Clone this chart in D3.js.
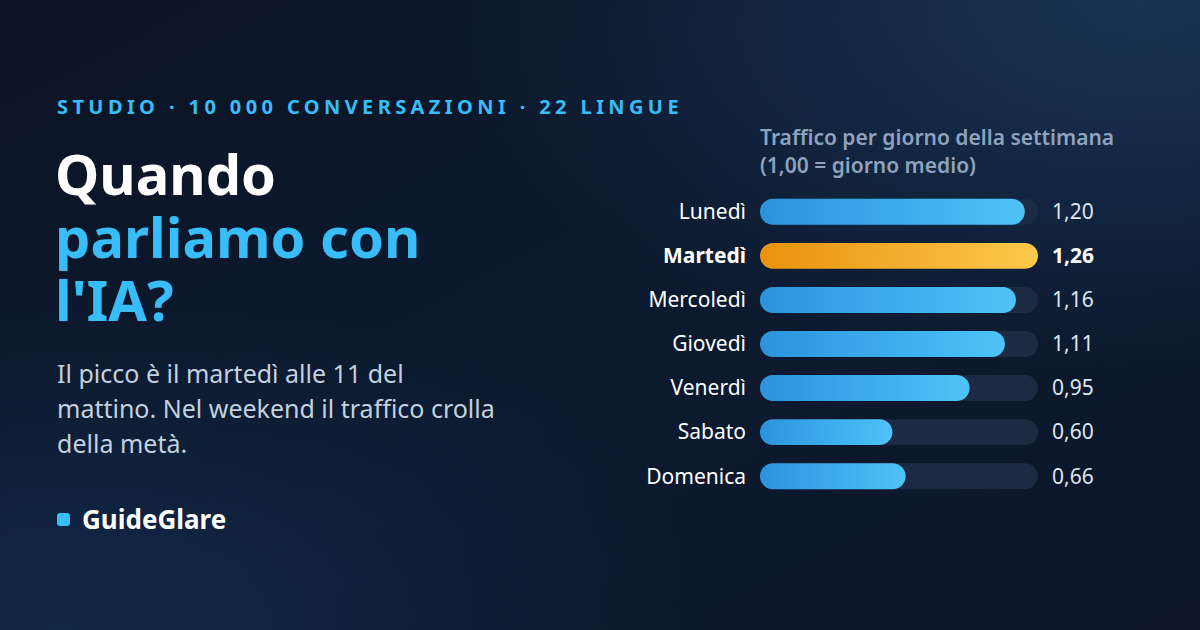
<!DOCTYPE html>
<html lang="it">
  <head>
    <meta charset="utf-8">
    <title>giorni_traffico</title>
    <script src="https://d3js.org/d3.v7.min.js"></script>
    <style>
      body {margin:0; background:#0c1628; overflow:hidden;}
      svg {display:block; font-family:"Noto Sans", "Open Sans", sans-serif;}
    </style>
  </head>
  <body>
    <script>
      // dati
      const days = ['Lunedì', 'Martedì', 'Mercoledì', 'Giovedì', 'Venerdì', 'Sabato', 'Domenica'];
      const traffic = [1.20, 1.26, 1.16, 1.11, 0.95, 0.60, 0.66];
      const valueLabels = ['1,20', '1,26', '1,16', '1,11', '0,95', '0,60', '0,66'];
      const peakDay = 'Martedì';

      const kicker = 'STUDIO · 10 000 CONVERSAZIONI · 22 LINGUE';
      const titleLines = ['Quando', 'parliamo con', "l'IA?"];
      const subtitleLines = ['Il picco è il martedì alle 11 del', 'mattino. Nel weekend il traffico crolla', 'della metà.'];
      const chartTitle = ['Traffico per giorno della settimana', '(1,00 = giorno medio)'];
      const brand = 'GuideGlare';

      const width = 1200;
      const height = 630;

      const svg = d3.select('body').append('svg')
        .attr('width', width).attr('height', height);

      const defs = svg.append('defs');

      // sfondo
      const bg = defs.append('linearGradient').attr('id', 'bg')
        .attr('x1', 0).attr('y1', 0).attr('x2', 1).attr('y2', 1);
      bg.append('stop').attr('offset', '0%').attr('stop-color', '#0b1424');
      bg.append('stop').attr('offset', '55%').attr('stop-color', '#0c1a30');
      bg.append('stop').attr('offset', '100%').attr('stop-color', '#0b1526');

      const glowTR = defs.append('radialGradient').attr('id', 'glowTR')
        .attr('cx', '95%').attr('cy', '0%').attr('r', '60%');
      glowTR.append('stop').attr('offset', '0%').attr('stop-color', '#1a3558').attr('stop-opacity', 0.9);
      glowTR.append('stop').attr('offset', '100%').attr('stop-color', '#1a3558').attr('stop-opacity', 0);

      const glowBL = defs.append('radialGradient').attr('id', 'glowBL')
        .attr('cx', '5%').attr('cy', '100%').attr('r', '55%');
      glowBL.append('stop').attr('offset', '0%').attr('stop-color', '#13294a').attr('stop-opacity', 0.9);
      glowBL.append('stop').attr('offset', '100%').attr('stop-color', '#13294a').attr('stop-opacity', 0);

      svg.append('rect').attr('width', width).attr('height', height).attr('fill', 'url(#bg)');
      svg.append('rect').attr('width', width).attr('height', height).attr('fill', 'url(#glowTR)');
      svg.append('rect').attr('width', width).attr('height', height).attr('fill', 'url(#glowBL)');

      const blue = defs.append('linearGradient').attr('id', 'barBlue');
      blue.append('stop').attr('offset', '0%').attr('stop-color', '#2a93df');
      blue.append('stop').attr('offset', '100%').attr('stop-color', '#4fc3f7');

      const orange = defs.append('linearGradient').attr('id', 'barOrange');
      orange.append('stop').attr('offset', '0%').attr('stop-color', '#e8920e');
      orange.append('stop').attr('offset', '100%').attr('stop-color', '#fdc94c');

      // testo a sinistra
      svg.append('text')
        .attr('x', 57).attr('y', 114)
        .attr('fill', '#38bdf8')
        .style('font-size', '20px').style('font-weight', 700).style('letter-spacing', '4.4px')
        .text(kicker);

      svg.append('g').selectAll('text').data(titleLines).join('text')
        .attr('x', 55)
        .attr('y', (d, i) => 195 + i * 63)
        .attr('fill', (d, i) => i === 0 ? '#ffffff' : '#38bdf8')
        .style('font-size', '56px').style('font-weight', 700)
        .text(d => d);

      svg.append('g').selectAll('text').data(subtitleLines).join('text')
        .attr('x', 57)
        .attr('y', (d, i) => 383 + i * 35)
        .attr('fill', '#c3d0df')
        .style('font-size', '25px')
        .text(d => d);

      svg.append('rect')
        .attr('x', 57).attr('y', 513).attr('width', 13).attr('height', 13).attr('rx', 3)
        .attr('fill', '#38bdf8');
      svg.append('text')
        .attr('x', 82).attr('y', 529)
        .attr('fill', '#ffffff')
        .style('font-size', '26px').style('font-weight', 700)
        .text(brand);

      // grafico a barre
      const x = d3.scaleLinear()
        .domain([0, d3.max(traffic)])
        .range([760, 1038]);

      const y = d3.scaleBand()
        .domain(days)
        .range([190, 498])
        .paddingInner(0.41)
        .paddingOuter(0.2);

      const barH = y.bandwidth();

      svg.append('g').selectAll('text').data(chartTitle).join('text')
        .attr('x', 760)
        .attr('y', (d, i) => 145 + i * 28)
        .attr('fill', '#8ea2bd')
        .style('font-size', '21px').style('font-weight', 600)
        .text(d => d);

      const rows = svg.append('g').selectAll('g').data(days).join('g')
        .attr('transform', d => `translate(0, ${y(d)})`);

      rows.append('rect')
        .attr('x', x(0)).attr('y', 0)
        .attr('width', x(d3.max(traffic)) - x(0))
        .attr('height', barH).attr('rx', barH / 2)
        .attr('fill', '#1c2a44');

      rows.append('rect')
        .attr('x', x(0)).attr('y', 0)
        .attr('width', (d, i) => x(traffic[i]) - x(0))
        .attr('height', barH).attr('rx', barH / 2)
        .attr('fill', d => d === peakDay ? 'url(#barOrange)' : 'url(#barBlue)');

      rows.append('text')
        .attr('x', 746).attr('y', barH / 2)
        .attr('dy', '0.35em')
        .attr('text-anchor', 'end')
        .attr('fill', '#ffffff')
        .style('font-size', '21px')
        .style('font-weight', d => d === peakDay ? 700 : 400)
        .text(d => d);

      rows.append('text')
        .attr('x', 1052).attr('y', barH / 2)
        .attr('dy', '0.35em')
        .attr('fill', d => d === peakDay ? '#ffffff' : '#dfe6ef')
        .style('font-size', '21px')
        .style('font-weight', d => d === peakDay ? 700 : 400)
        .text((d, i) => valueLabels[i]);
    </script>
  </body>
</html>
